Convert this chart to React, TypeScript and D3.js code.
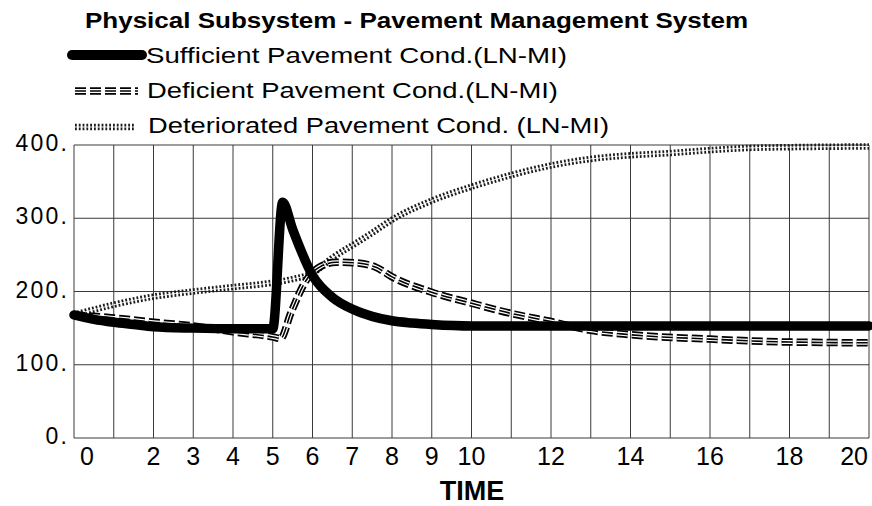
import { useRef, useEffect } from "react";
import * as d3 from "d3";

// series
const sufficientT = [0, 0.5, 1, 1.5, 2, 3, 4, 5, 5.25, 5.5, 6, 6.5, 7, 7.5, 8, 8.5, 9, 10, 12, 14, 16, 18, 20];
const sufficientV = [168, 162, 158, 155, 152, 150, 149, 149, 322, 285, 222, 192, 176, 166, 160, 157, 155, 153, 153, 153, 153, 153, 153];

const deficientT = [0, 1, 2, 3, 4, 5, 5.2, 5.45, 5.85, 6.2, 6.6, 7.1, 7.6, 8, 9, 10, 11, 12, 13, 14, 16, 18, 20];
const deficientV = [168, 164, 158, 153, 145, 138, 136, 170, 216, 234, 240, 239, 233, 220, 199, 184, 170, 159, 147, 141, 135, 131, 130];

const deterioratedT = [0, 1, 2, 3, 4, 5, 5.5, 6, 6.5, 7, 7.5, 8, 9, 10, 11, 12, 13, 14, 15, 16, 17, 18, 20];
const deterioratedV = [168, 182, 193, 200, 206, 212, 217, 225, 246, 263, 280, 298, 324, 343, 359, 372, 381, 386, 389, 393, 396, 397, 398];

const xTicks = [0, 2, 3, 4, 5, 6, 7, 8, 9, 10, 12, 14, 16, 18, 20];
const yTicks = [0, 100, 200, 300, 400];

const title = "Physical Subsystem - Pavement Management System";
const legendLabels = [
  "Sufficient Pavement Cond.(LN-MI)",
  "Deficient Pavement Cond.(LN-MI)",
  "Deteriorated Pavement Cond. (LN-MI)",
];

const useD3 = (renderFn: (svg: any) => void, deps: any[]) => {
  const ref = useRef<SVGSVGElement>(null);
  useEffect(() => {
    const svg = d3.select(ref.current);
    svg.selectAll("*").remove();
    renderFn(svg);
  }, deps);
  return ref;
};

const zip = (t: number[], v: number[]) => t.map((d, i) => [d, v[i]] as [number, number]);

export default function App() {
  const ref = useD3((svg) => {
    const width = 872;
    const height = 506;
    const x = d3.scaleLinear().domain([0, 20]).range([74, 869]);
    const y = d3.scaleLinear().domain([0, 400]).range([438, 145]);
    const font = "'Liberation Sans', Arial, Helvetica, sans-serif";

    svg.attr("width", width).attr("height", height);
    svg.append("rect").attr("width", width).attr("height", height).attr("fill", "#fff");

    // grid
    const grid = svg.append("g").attr("stroke", "#3a3a3a").attr("stroke-width", 1);
    grid.selectAll("line.v")
      .data(d3.range(0, 21))
      .join("line")
      .attr("x1", (d) => x(d)).attr("x2", (d) => x(d))
      .attr("y1", y(400)).attr("y2", y(0));
    grid.selectAll("line.h")
      .data(yTicks)
      .join("line")
      .attr("x1", x(0)).attr("x2", x(20))
      .attr("y1", (d) => y(d)).attr("y2", (d) => y(d));

    // y labels
    svg.append("g")
      .selectAll("text")
      .data(yTicks)
      .join("text")
      .attr("x", 69)
      .attr("y", (d) => y(d) - 2)
      .attr("text-anchor", "end")
      .attr("dominant-baseline", "central")
      .attr("font-family", font)
      .attr("font-size", 23)
      .attr("letter-spacing", 2.2)
      .text((d) => `${d}.`);

    // x labels
    svg.append("g")
      .selectAll("text")
      .data(xTicks)
      .join("text")
      .attr("x", (d, i) => (i === 0 ? x(d) + 6 : i === xTicks.length - 1 ? x(d) - 1 : x(d)))
      .attr("y", 465)
      .attr("text-anchor", (d, i) => (i === 0 ? "start" : i === xTicks.length - 1 ? "end" : "middle"))
      .attr("font-family", font)
      .attr("font-size", 25)
      .text((d) => d);

    svg.append("text")
      .attr("x", 472).attr("y", 500)
      .attr("text-anchor", "middle")
      .attr("font-family", font)
      .attr("font-weight", "bold")
      .attr("font-size", 27)
      .text("TIME");

    svg.append("text")
      .attr("x", 85).attr("y", 28)
      .attr("font-family", font)
      .attr("font-weight", "bold")
      .attr("font-size", 22)
      .attr("textLength", 663)
      .attr("lengthAdjust", "spacingAndGlyphs")
      .text(title);

    const line = d3.line<[number, number]>()
      .x((d) => x(d[0]))
      .y((d) => y(d[1]))
      .curve(d3.curveMonotoneX);

    // line styles
    const drawHatched = (g: any, d: string) => {
      g.append("path").attr("d", d).attr("fill", "none")
        .attr("stroke", "#1a1a1a").attr("stroke-width", 6.5).attr("stroke-dasharray", "1.8 2");
      g.append("path").attr("d", d).attr("fill", "none")
        .attr("stroke", "#fff").attr("stroke-width", 0.9);
    };
    const drawTriple = (g: any, d: string) => {
      g.append("path").attr("d", d).attr("fill", "none")
        .attr("stroke", "#000").attr("stroke-width", 7.5).attr("stroke-dasharray", "11 4");
      g.append("path").attr("d", d).attr("fill", "none")
        .attr("stroke", "#fff").attr("stroke-width", 4).attr("stroke-dasharray", "11 4");
      g.append("path").attr("d", d).attr("fill", "none")
        .attr("stroke", "#000").attr("stroke-width", 1.6).attr("stroke-dasharray", "11 4");
    };
    const drawThick = (g: any, d: string, w: number) => {
      g.append("path").attr("d", d).attr("fill", "none")
        .attr("stroke", "#000").attr("stroke-width", w)
        .attr("stroke-linecap", "round").attr("stroke-linejoin", "round");
    };

    const plot = svg.append("g");
    drawHatched(plot, line(zip(deterioratedT, deterioratedV)) as string);
    drawTriple(plot, line(zip(deficientT, deficientV)) as string);
    drawThick(plot, line(zip(sufficientT, sufficientV)) as string, 9.5);

    // legend
    const legend = svg.append("g");
    drawThick(legend, "M72,55L142,55", 10);
    drawTriple(legend, "M75,91L138,91");
    drawHatched(legend, "M75,127L135,127");

    const legendX = [146, 147, 148];
    const legendY = [63, 98, 133];
    const legendW = [421, 411, 461];
    legend.selectAll("text")
      .data(legendLabels)
      .join("text")
      .attr("x", (d, i) => legendX[i])
      .attr("y", (d, i) => legendY[i])
      .attr("font-family", font)
      .attr("font-size", 22)
      .attr("textLength", (d, i) => legendW[i])
      .attr("lengthAdjust", "spacingAndGlyphs")
      .text((d) => d);
  }, []);

  return (
    <svg
      ref={ref}
      style={{ position: "absolute", left: 0, top: 0, display: "block" }}
    />
  );
}
